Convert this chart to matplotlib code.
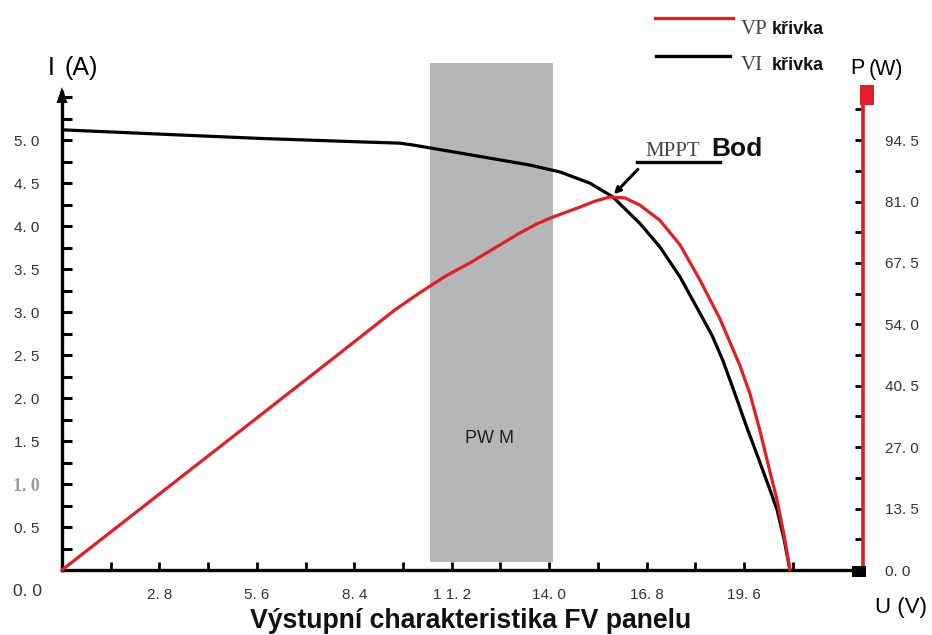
import matplotlib
matplotlib.use("Agg")
import matplotlib.pyplot as plt
from matplotlib.patches import Rectangle, Polygon
from matplotlib.lines import Line2D
import numpy as np

# ---------------- data ----------------
iv_voltage = [0, 2.82, 5.69, 8.56, 9.71, 10.14, 10.57, 11.44, 12.59, 13.45, 14.31,
              15.17, 15.83, 16.61, 17.18, 17.76, 18.33, 18.68, 18.99, 19.34, 19.68,
              19.94, 20.14, 20.34, 20.55, 20.75, 20.92]
iv_current = [5.12, 5.07, 5.02, 4.98, 4.965, 4.94, 4.91, 4.85, 4.77, 4.71, 4.63,
              4.50, 4.34, 4.03, 3.76, 3.41, 2.99, 2.73, 2.44, 2.05, 1.66,
              1.38, 1.16, 0.94, 0.70, 0.36, 0.0]

pv_voltage = [0, 3.97, 7.99, 9.57, 10.29, 11.0, 11.72, 12.44, 13.16, 13.65, 14.11,
              14.89, 15.32, 15.75, 16.18, 16.61, 17.18, 17.76, 18.33, 18.91, 19.48,
              19.77, 20.06, 20.32, 20.55, 20.75, 20.92]
pv_power = [0, 23.7, 47.7, 57.2, 61.0, 64.5, 67.5, 70.8, 74.1, 76.1, 77.6,
            79.8, 81.1, 82.0, 81.8, 80.2, 76.9, 71.5, 63.8, 55.2, 45.0,
            38.8, 30.6, 22.4, 15.4, 7.7, 0]

x_tick_values = [2.8, 5.6, 8.4, 11.2, 14.0, 16.8, 19.6]
x_tick_labels = ["2. 8", "5. 6", "8. 4", "1 1. 2", "14. 0", "16. 8", "19. 6"]
i_tick_values = [0.5, 1.0, 1.5, 2.0, 2.5, 3.0, 3.5, 4.0, 4.5, 5.0]
i_tick_labels = ["0. 5", "1. 0", "1. 5", "2. 0", "2. 5", "3. 0", "3. 5", "4. 0", "4. 5", "5. 0"]
p_tick_values = [0.0, 13.5, 27.0, 40.5, 54.0, 67.5, 81.0, 94.5]
p_tick_labels = ["0. 0", "13. 5", "27. 0", "40. 5", "54. 0", "67. 5", "81. 0", "94. 5"]

pwm_range = (10.57, 14.11)
mpp_point = (15.83, 4.34)

# ---------------- layout helpers ----------------
W, H = 932, 635
def fx(px):
    return px / W
def fy(py):
    return 1 - py / H

RED = "#e31e26"
SANS = "Liberation Sans"
SERIF = "Liberation Serif"

fig = plt.figure(figsize=(W / 100, H / 100), dpi=100)
fig.patch.set_facecolor("white")

ax = fig.add_axes([fx(62), fy(570), (863 - 62) / W, (570 - 92) / H])
ax.set_xlim(0, 23.02)
ax.set_ylim(0, 5.56)
ax2 = ax.twinx()
ax2.set_ylim(0, 5.56 * 18.9)

# spines
for s in ["top", "right"]:
    ax.spines[s].set_visible(False)
ax.spines["left"].set_linewidth(2.4)
ax.spines["bottom"].set_linewidth(2.4)
for s in ["top", "left", "bottom"]:
    ax2.spines[s].set_visible(False)
ax2.spines["right"].set_color(RED)
ax2.spines["right"].set_linewidth(2.6)

# PWM band
ax.add_patch(Rectangle((pwm_range[0], 0.09), pwm_range[1] - pwm_range[0], 5.81,
                       facecolor="#b4b6b7", edgecolor="none", zorder=0.5, clip_on=False))
ax.text(np.mean(pwm_range) - 0.05, (570 - 438) / 86, "PW M", fontsize=13, family=SANS,
        color="#222222", ha="center", va="center", zorder=1)

# curves
ax.plot(iv_voltage, iv_current, color="black", lw=2.3, zorder=3,
        solid_capstyle="round", solid_joinstyle="round")
ax2.plot(pv_voltage, pv_power, color=RED, lw=2.3, zorder=3, clip_on=False,
         solid_capstyle="round", solid_joinstyle="round")

# x ticks
ax.set_xticks(x_tick_values)
ax.set_xticklabels(x_tick_labels)
ax.set_xticks(np.arange(1.4, 22.5, 2.8), minor=True)
ax.tick_params(axis="x", which="both", direction="in", length=6, width=2.0,
               pad=13, labelsize=11, labelcolor="#333333")

# left y ticks
ax.set_yticks(i_tick_values)
ax.set_yticklabels(i_tick_labels)
ax.set_yticks(list(np.arange(0.25, 5.3, 0.5)) + [5.5], minor=True)
ax.tick_params(axis="y", which="both", direction="in", length=7, width=2.2,
               pad=16, labelsize=11, labelcolor="#333333")
for lab in ax.get_yticklabels() + ax.get_xticklabels():
    lab.set_family(SANS)
lab10 = ax.get_yticklabels()[1]
lab10.set_family(SERIF)
lab10.set_color("#9a9a9a")
lab10.set_fontsize(13)
lab10.set_fontweight("bold")

# right y ticks
ax2.set_yticks(p_tick_values)
ax2.set_yticklabels(p_tick_labels)
ax2.set_yticks(list(np.arange(6.75, 102, 13.5)), minor=True)
ax2.tick_params(axis="y", which="both", direction="in", length=6, width=2.0,
                color="black", pad=16, labelsize=11, labelcolor="#333333")
for lab in ax2.get_yticklabels():
    lab.set_family(SANS)

# arrow on left axis, squares on axes ends
fig.patches.append(Polygon([(fx(56.5), fy(103)), (fx(67.5), fy(103)), (fx(62), fy(87))],
                           closed=True, facecolor="black", edgecolor="none",
                           transform=fig.transFigure, figure=fig))
fig.patches.append(Rectangle((fx(852), fy(577)), 14 / W, 11 / H, facecolor="black",
                             edgecolor="none", transform=fig.transFigure, figure=fig))
fig.patches.append(Rectangle((fx(860), fy(105)), 14 / W, 20 / H, facecolor=RED,
                             edgecolor="none", transform=fig.transFigure, figure=fig, zorder=5))

# axis labels
fig.text(fx(51), fy(68), "I", fontsize=18, family=SANS, ha="center", va="center")
fig.text(fx(65), fy(68), "(A)", fontsize=18, family=SANS, ha="left", va="center")
fig.text(fx(850), fy(69), "P", fontsize=15.5, family=SANS, ha="left", va="center")
fig.text(fx(869), fy(69), "(W)", fontsize=15.5, family=SANS, ha="left", va="center")
fig.text(fx(875), fy(608), "U (V)", fontsize=16, family=SANS, ha="left", va="center")
fig.text(fx(42), fy(591), "0. 0", fontsize=12.5, family=SANS, color="#333333",
         ha="right", va="center")

# title
fig.text(fx(471), fy(628), "Výstupní charakteristika FV panelu", fontsize=19.2,
         family=SANS, weight="bold", color="#111111", ha="center", va="baseline")

# legend
fig.lines.append(Line2D([fx(655), fx(733)], [fy(18), fy(18)], color=RED, lw=2.4,
                        transform=fig.transFigure))
fig.lines.append(Line2D([fx(656), fx(730)], [fy(56), fy(56)], color="black", lw=2.4,
                        transform=fig.transFigure))
fig.text(fx(741), fy(30), "VP", fontsize=15, family=SERIF, color="#444444",
         ha="left", va="center")
fig.text(fx(772), fy(30), "křivka", fontsize=13, family=SANS, weight="bold",
         color="#111111", ha="left", va="center")
fig.text(fx(741), fy(66), "VI", fontsize=15, family=SERIF, color="#444444",
         ha="left", va="center")
fig.text(fx(772), fy(66), "křivka", fontsize=13, family=SANS, weight="bold",
         color="#111111", ha="left", va="center")

# MPPT annotation
fig.text(fx(645), fy(151), "MPPT", fontsize=15, family=SERIF, color="#444444",
         ha="left", va="center")
fig.text(fx(711), fy(149), "Bod", fontsize=19, family=SANS, weight="bold",
         color="#111111", ha="left", va="center")
fig.lines.append(Line2D([fx(637), fx(720)], [fy(162), fy(162)], color="black", lw=2.4,
                        transform=fig.transFigure))
ax.annotate("", xy=(mpp_point[0] + 0.03, mpp_point[1] + 0.03),
            xytext=(16.55, 4.66),
            arrowprops=dict(arrowstyle="-|>", lw=2.2, color="black", mutation_scale=9,
                            shrinkA=0, shrinkB=0))

fig.savefig("out.png", dpi=100, facecolor="white")
